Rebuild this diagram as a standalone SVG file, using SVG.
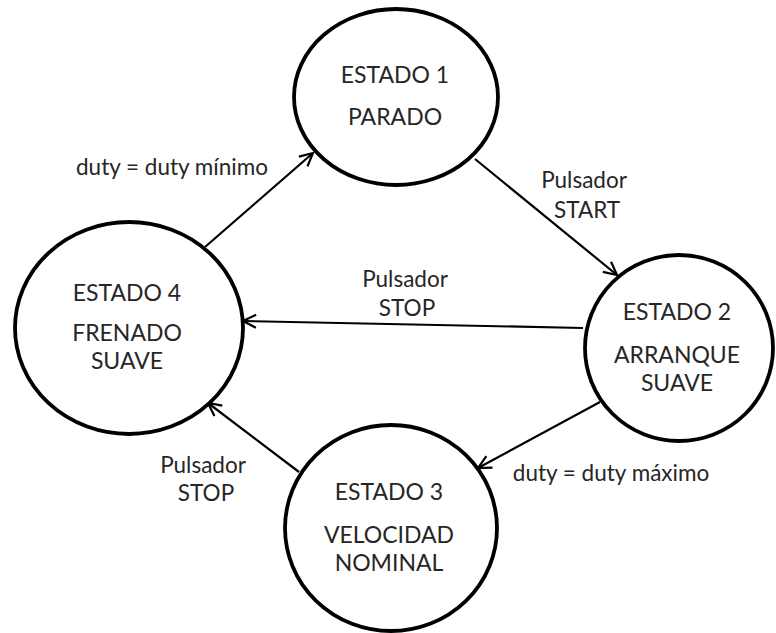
<svg xmlns="http://www.w3.org/2000/svg" width="776" height="633" viewBox="0 0 776 633">
<style>
.node ellipse{fill:#fff;stroke:#000;stroke-width:3.8}
.st{font-family:Lato,"Open Sans",sans-serif;font-size:23px;fill:#262626;text-anchor:middle}
.lb{font-family:Lato,"Open Sans",sans-serif;font-size:22.5px;fill:#262626;text-anchor:middle}
.edge{stroke:#000;stroke-width:2.2;fill:none;marker-end:url(#arr)}
</style>
<defs>
<marker id="arr" markerUnits="userSpaceOnUse" markerWidth="18" markerHeight="18" viewBox="0 0 18 18" refX="16" refY="9" orient="auto">
<path d="M3,2.5 L16,9 L3,15.5" fill="none" stroke="#000" stroke-width="2.2"/>
</marker>
</defs>
<rect width="776" height="633" fill="#fff"/>
<g id="connectors">
<line class="edge" x1="205" y1="247" x2="313" y2="153"/>
<line class="edge" x1="475" y1="159" x2="617" y2="275"/>
<line class="edge" x1="583" y1="328" x2="243" y2="321"/>
<line class="edge" x1="600" y1="402" x2="478" y2="468"/>
<line class="edge" x1="299" y1="472" x2="208" y2="403"/>
</g>
<g id="labels">
<text class="lb" x="172" y="175">duty = duty mínimo</text>
<text class="lb" x="584" y="188">Pulsador</text>
<text class="lb" x="587" y="218">START</text>
<text class="lb" x="405" y="287">Pulsador</text>
<text class="lb" x="407" y="316">STOP</text>
<text class="lb" x="203" y="473">Pulsador</text>
<text class="lb" x="206" y="501">STOP</text>
<text class="lb" x="611" y="481">duty = duty máximo</text>
</g>
<g id="estado1" class="node">
<ellipse cx="396" cy="97" rx="102" ry="88"/>
<text class="st" x="395" y="83">ESTADO 1</text>
<text class="st" x="395" y="125">PARADO</text>
</g>
<g id="estado2" class="node">
<ellipse cx="679" cy="348" rx="94" ry="93"/>
<text class="st" x="677" y="320">ESTADO 2</text>
<text class="st" x="677" y="363">ARRANQUE</text>
<text class="st" x="677" y="391">SUAVE</text>
</g>
<g id="estado3" class="node">
<ellipse cx="391" cy="528" rx="106" ry="103"/>
<text class="st" x="389" y="500">ESTADO 3</text>
<text class="st" x="389" y="543">VELOCIDAD</text>
<text class="st" x="389" y="571">NOMINAL</text>
</g>
<g id="estado4" class="node">
<ellipse cx="129" cy="328" rx="114" ry="106"/>
<text class="st" x="127" y="301">ESTADO 4</text>
<text class="st" x="127" y="341">FRENADO</text>
<text class="st" x="127" y="369">SUAVE</text>
</g>
</svg>
